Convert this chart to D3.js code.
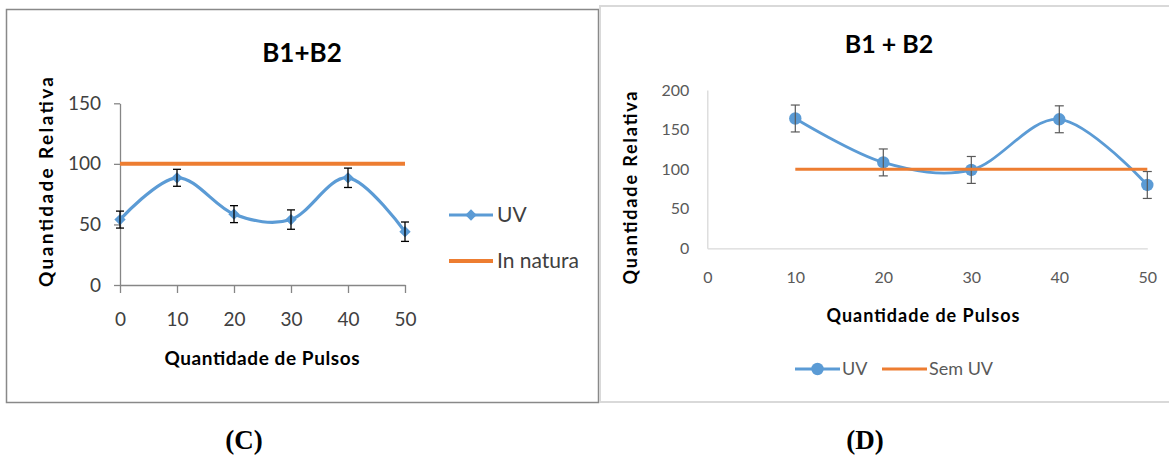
<!DOCTYPE html>
<html>
<head>
<meta charset="utf-8">
<script src="https://cdn.jsdelivr.net/npm/d3@7"></script>
<style>
  html, body { margin: 0; padding: 0; background: #fff; }
  svg { display: block; }
  text { font-family: Lato, "Open Sans", sans-serif; }
</style>
</head>
<body>
<svg id="fig" width="1169" height="455"></svg>
<script>
// ---- Panel C: B1+B2, UV vs "In natura" ----
const pulsesC = [0, 10, 20, 30, 40, 50];
const uvC = [54, 88.5, 58.5, 54, 88.5, 44];
const uvErrC = [7, 7, 7, 8, 8, 8];
const inNatura = [100, 100, 100, 100, 100, 100];
const yTicksC = [0, 50, 100, 150];
const xTicksC = [0, 10, 20, 30, 40, 50];

// ---- Panel D: B1 + B2, UV vs "Sem UV" ----
const pulsesD = [10, 20, 30, 40, 50];
const uvD = [164, 108.5, 99, 163, 80];
const uvErrD = [17, 17, 17, 17, 17];
const semUV = [100, 100, 100, 100, 100];
const yTicksD = [0, 50, 100, 150, 200];
const xTicksD = [0, 10, 20, 30, 40, 50];

const BLUE = "#5b9bd5";
const ORANGE = "#ed7d31";

const svg = d3.select("#fig");

// panel frames
svg.append("rect").attr("x", 6.5).attr("y", 9.5).attr("width", 592).attr("height", 393)
  .attr("fill", "#fff").attr("stroke", "#898989").attr("stroke-width", 1.5);
svg.append("rect").attr("x", 600).attr("y", 6).attr("width", 580).attr("height", 396)
  .attr("fill", "#fff").attr("stroke", "#d9d9d9").attr("stroke-width", 2);

const smooth = d3.line().curve(d3.curveCatmullRom.alpha(0));
const DIAMOND_AREA = 64;

function drawPanel(o) {
  const x = d3.scaleLinear().domain([0, 50]).range(o.xRange);
  const y = d3.scaleLinear().domain(o.yDomain).range(o.yRange);
  const g = svg.append("g");

  // y axis
  const yAx = g.append("g").attr("transform", `translate(${o.xRange[0]},0)`)
    .call(d3.axisLeft(y).tickValues(o.yTicks).tickSize(o.yTickSize).tickPadding(o.yPad).tickSizeOuter(0));
  // x axis
  const xAx = g.append("g").attr("transform", `translate(0,${o.yRange[0]})`)
    .call(d3.axisBottom(x).tickValues(o.xTicks).tickSize(o.xTickSize).tickPadding(o.xPad).tickSizeOuter(0));
  [yAx, xAx].forEach(a => {
    a.select(".domain").attr("stroke", o.axisColor).attr("stroke-width", o.axisWidth);
    a.selectAll(".tick line").attr("stroke", o.axisColor).attr("stroke-width", o.axisWidth);
    a.selectAll(".tick text").attr("fill", o.labelColor).style("font-size", o.labelSize + "px")
      .style("font-family", "Lato, sans-serif");
  });

  // reference series (100)
  const refLine = () => g.append("path")
    .attr("d", d3.line()(o.refX.map((p, i) => [x(p), y(o.refY[i])])))
    .attr("fill", "none").attr("stroke", ORANGE).attr("stroke-width", o.refWidth);

  if (!o.refOnTop) refLine();

  // UV series, smoothed
  g.append("path")
    .attr("d", smooth(o.px.map((p, i) => [x(p), y(o.vals[i])])))
    .attr("fill", "none").attr("stroke", BLUE).attr("stroke-width", o.lineWidth)
    .attr("stroke-linejoin", "round").attr("stroke-linecap", "round");

  // markers
  if (o.marker === "diamond") {
    g.selectAll(".mk").data(o.px).join("path")
      .attr("d", d3.symbol(d3.symbolSquare, DIAMOND_AREA)())
      .attr("transform", (p, i) => `translate(${x(p)},${y(o.vals[i])}) rotate(45)`)
      .attr("fill", BLUE);
  } else {
    g.selectAll(".mk").data(o.px).join("circle")
      .attr("cx", p => x(p)).attr("cy", (p, i) => y(o.vals[i])).attr("r", 6.2)
      .attr("fill", BLUE);
  }

  // error bars
  o.px.forEach((p, i) => {
    const cx = x(p), hi = y(o.vals[i] + o.errs[i]), lo = y(o.vals[i] - o.errs[i]);
    const eb = g.append("g").attr("stroke", o.errColor).attr("stroke-width", o.errWidth);
    eb.append("line").attr("x1", cx).attr("x2", cx).attr("y1", hi).attr("y2", lo);
    eb.append("line").attr("x1", cx - o.cap).attr("x2", cx + o.cap).attr("y1", hi).attr("y2", hi);
    eb.append("line").attr("x1", cx - o.cap).attr("x2", cx + o.cap).attr("y1", lo).attr("y2", lo);
  });

  if (o.refOnTop) refLine();

  // title
  g.append("text").attr("x", o.title.x).attr("y", o.title.y).attr("text-anchor", "middle")
    .style("font-size", o.title.size + "px").style("font-weight", 700).attr("fill", "#000")
    .text(o.title.text);

  // axis titles
  g.append("text")
    .attr("transform", `translate(${o.yTitle.x},${o.yTitle.y}) rotate(-90)`)
    .attr("text-anchor", "middle").attr("textLength", o.yTitle.len).attr("lengthAdjust", "spacing")
    .style("font-size", o.yTitle.size + "px").style("font-weight", 700).attr("fill", "#000")
    .text("Quantidade Relativa");
  g.append("text").attr("x", o.xTitle.x).attr("y", o.xTitle.y)
    .attr("text-anchor", "middle").attr("textLength", o.xTitle.len).attr("lengthAdjust", "spacing")
    .style("font-size", o.xTitle.size + "px").style("font-weight", 700).attr("fill", "#000")
    .text("Quantidade de Pulsos");

  // legend
  const lg = o.legend;
  lg.items.forEach(it => {
    const li = g.append("g").attr("transform", `translate(${it.x},${it.y})`);
    li.append("line").attr("x1", 0).attr("x2", lg.lineLen).attr("y1", 0).attr("y2", 0)
      .attr("stroke", it.color).attr("stroke-width", it.width);
    if (it.marker === "diamond") {
      li.append("path").attr("d", d3.symbol(d3.symbolSquare, DIAMOND_AREA)())
        .attr("transform", `translate(${lg.lineLen / 2},0) rotate(45)`).attr("fill", it.color);
    } else if (it.marker === "circle") {
      li.append("circle").attr("cx", lg.lineLen / 2).attr("cy", 0).attr("r", 6.2).attr("fill", it.color);
    }
    li.append("text").attr("x", lg.lineLen + lg.gap).attr("y", 0).attr("dy", "0.35em")
      .style("font-size", lg.size + "px").attr("fill", lg.color).text(it.label);
  });
}

drawPanel({
  xRange: [120, 405], yRange: [285, 103.3], yDomain: [0, 150],
  yTicks: yTicksC, xTicks: xTicksC,
  yTickSize: 6, yPad: 13, xTickSize: 8, xPad: 20,
  axisColor: "#868686", axisWidth: 1.3, labelColor: "#404040", labelSize: 19,
  px: pulsesC, vals: uvC, errs: uvErrC, refX: pulsesC, refY: inNatura,
  marker: "diamond", lineWidth: 3.2, refWidth: 4, refOnTop: false,
  errColor: "#000", errWidth: 1.3, cap: 4,
  title: { text: "B1+B2", x: 302, y: 62, size: 26 },
  yTitle: { x: 53, y: 182, len: 210, size: 19 },
  xTitle: { x: 262, y: 365, len: 195, size: 19 },
  legend: {
    lineLen: 44, gap: 4, size: 21, color: "#404040",
    items: [
      { label: "UV", x: 449, y: 215, color: BLUE, width: 3.2, marker: "diamond" },
      { label: "In natura", x: 449, y: 261, color: ORANGE, width: 4 }
    ]
  }
});

drawPanel({
  xRange: [707.3, 1147.3], yRange: [248.3, 90], yDomain: [0, 200],
  yTicks: yTicksD, xTicks: xTicksD,
  yTickSize: 0, yPad: 18, xTickSize: 0, xPad: 23,
  axisColor: "#d9d9d9", axisWidth: 1.3, labelColor: "#595959", labelSize: 16,
  px: pulsesD, vals: uvD, errs: uvErrD, refX: pulsesD, refY: semUV,
  marker: "circle", lineWidth: 2.8, refWidth: 3, refOnTop: true,
  errColor: "#595959", errWidth: 1.2, cap: 4.5,
  title: { text: "B1 + B2", x: 889, y: 53, size: 25 },
  yTitle: { x: 637, y: 188, len: 193, size: 18 },
  xTitle: { x: 923, y: 322, len: 193, size: 18 },
  legend: {
    lineLen: 45, gap: 2, size: 18, color: "#595959",
    items: [
      { label: "UV", x: 795, y: 369, color: BLUE, width: 3, marker: "circle" },
      { label: "Sem UV", x: 882, y: 369, color: ORANGE, width: 3 }
    ]
  }
});

// panel captions
svg.append("text").attr("x", 244).attr("y", 449).attr("text-anchor", "middle")
  .style("font-family", "'Liberation Serif', 'Times New Roman', serif").style("font-weight", 700)
  .style("font-size", "27px").text("(C)");
svg.append("text").attr("x", 865).attr("y", 449).attr("text-anchor", "middle")
  .style("font-family", "'Liberation Serif', 'Times New Roman', serif").style("font-weight", 700)
  .style("font-size", "27px").text("(D)");
</script>
</body>
</html>
